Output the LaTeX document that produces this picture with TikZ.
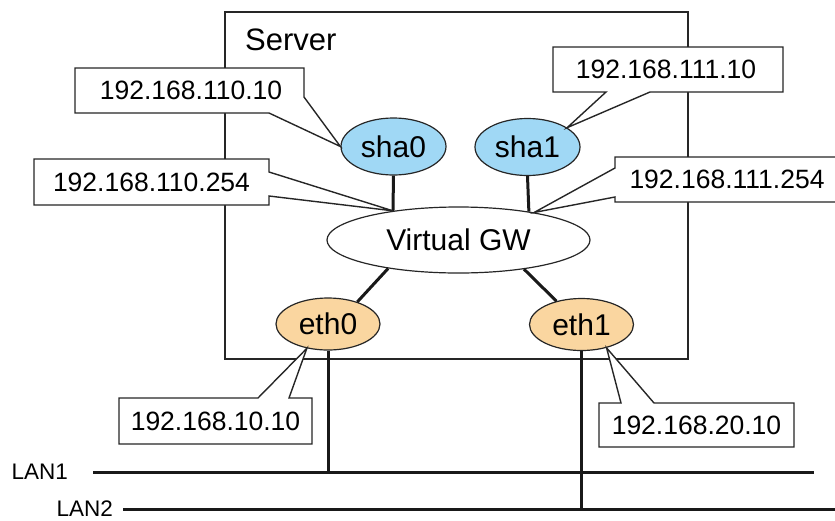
\documentclass[tikz,border=0pt]{standalone}
\usepackage{fontspec}
\setmainfont{Liberation Sans}
\usetikzlibrary{shapes.geometric,positioning}
\definecolor{shablue}{RGB}{160,216,245}
\definecolor{ethorange}{RGB}{250,214,160}

\begin{document}
\begin{tikzpicture}[x=1pt,y=-1pt,line join=miter,
  thin line/.style={line width=1.4pt,draw=black!85},
  link/.style={line width=3pt,draw=black!90},
  port/.style={ellipse,draw=black!85,line width=1.2pt,inner sep=0pt,font=\fontsize{30}{36}\selectfont},
  sha/.style={port,fill=shablue,minimum width=105pt,minimum height=57pt},
  eth/.style={port,fill=ethorange,minimum width=104pt,minimum height=52pt},
  callout/.style={thin line,fill=white},
  ip/.style={inner sep=0pt,font=\fontsize{26.5}{32}\selectfont},
  lan label/.style={inner sep=0pt,font=\fontsize{22.5}{27}\selectfont}]
\useasboundingbox (0,0) rectangle (835,520);
\draw[thin line] (225,12) rectangle (688,359);
\node[anchor=base west,inner sep=0pt,font=\fontsize{31}{37}\selectfont] (srv) at (245,50) {Server};
\node[sha] (sha0) at (393.5,146.5) {sha0};
\node[sha] (sha1) at (527.5,147) {sha1};
\node[port,fill=white,minimum width=263pt,minimum height=66pt] (vgw) at (458.5,240) {Virtual GW};
\node[eth] (eth0) at (328,324) {eth0};
\node[eth] (eth1) at (581.5,324.5) {eth1};
\draw[link] (sha0.south) -- (vgw.156);
\draw[link] (sha1.south) -- (vgw.22);
\draw[link] (eth0.37) -- (vgw.202);
\draw[link] (eth1.137) -- (vgw.336);
\coordinate (lan1w) at (93,472);
\coordinate (lan1e) at (814,472);
\coordinate (lan2w) at (123,509);
\coordinate (lan2e) at (835,509);
\draw[link] (lan1w) -- (lan1e);
\draw[link] (lan2w) -- (lan2e);
\draw[link] (eth0.south) -- (eth0.south |- lan1w);
\draw[link] (eth1.south) -- (eth1.south |- lan2w);
\node[lan label,left=25pt of lan1w] (lan1) {LAN1};
\node[lan label,left=10pt of lan2w] (lan2) {LAN2};
\draw[callout] (75,68) -- (304,68) -- (304,97) -- (sha0.west) -- (269,113) -- (75,113) -- cycle;
\node[ip] (ip0) at (191,90.5) {192.168.110.10};
\draw[callout] (34,159) -- (269,159) -- (269,172) -- (vgw.156) -- (269,196) -- (269,205) -- (34,205) -- cycle;
\node[ip] (ip1) at (151.5,182) {192.168.110.254};
\draw[callout] (553,47) -- (783,47) -- (783,92) -- (650,92) -- (sha1.26) -- (606,92) -- (553,92) -- cycle;
\node[ip] (ip2) at (666,69.5) {192.168.111.10};
\draw[callout] (845,157) -- (615,157) -- (615,168) -- (vgw.20) -- (615,197) -- (615,202) -- (845,202);
\node[ip] (ip3) at (727,179.5) {192.168.111.254};
\draw[callout] (119,398) -- (258,398) -- (eth0.229) -- (289,398) -- (312,398) -- (312,444) -- (119,444) -- cycle;
\node[ip] (ip4) at (215.5,421) {192.168.10.10};
\draw[callout] (599,403) -- (621,403) -- (eth1.317) -- (654,403) -- (794,403) -- (794,447) -- (599,447) -- cycle;
\node[ip] (ip5) at (696.5,425) {192.168.20.10};
\end{tikzpicture}
\end{document}
